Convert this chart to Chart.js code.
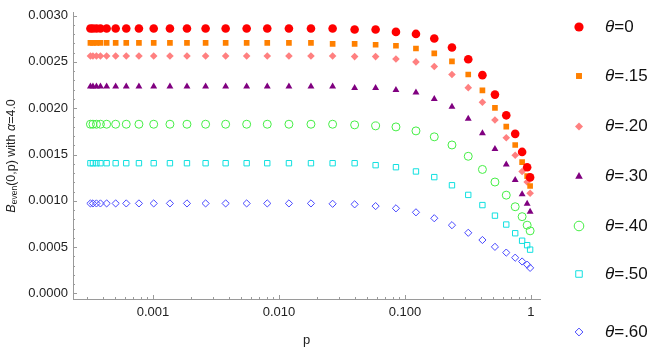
<!DOCTYPE html>
<html lang="en">
<head>
<meta charset="UTF-8">
<title>B even vs p</title>
<script src="https://cdn.jsdelivr.net/npm/chart.js"></script>
<style>
  html, body { margin: 0; padding: 0; background: #fff; }
</style>
</head>
<body>
<canvas id="chart" width="665" height="350"></canvas>
<script>
// p values (x positions, log axis)
const pValues = [0.000319, 0.000334, 0.000356, 0.000383, 0.000429, 0.000506, 0.000614, 0.000774,
                 0.001014, 0.001364, 0.001862, 0.002618, 0.003776, 0.005543, 0.008077, 0.0120,
                 0.01795, 0.02667, 0.03987, 0.05851, 0.08485, 0.1223, 0.1709, 0.2361,
                 0.3180, 0.412, 0.518, 0.637, 0.750, 0.851, 0.933, 0.985];

const seriesLabels = ['0', '.15', '.20', '.30', '.40', '.50', '.60'];

const theta0 = [0.00286, 0.00286, 0.00286, 0.00286, 0.00286, 0.00286, 0.00286, 0.00286,
                0.00286, 0.00286, 0.00286, 0.00286, 0.00286, 0.00286, 0.00286, 0.00286,
                0.00286, 0.00286, 0.00285, 0.00285, 0.002824, 0.002802, 0.002752, 0.002656,
                0.002528, 0.002357, 0.002147, 0.001923, 0.001723, 0.001528, 0.001363, 0.001253];
const theta15 = [0.002706, 0.002706, 0.002706, 0.002706, 0.002706, 0.002706, 0.002706, 0.002706,
                 0.002706, 0.002706, 0.002706, 0.002706, 0.002706, 0.002706, 0.002706, 0.002706,
                 0.002706, 0.002695, 0.002695, 0.002685, 0.002674, 0.002645, 0.002592, 0.002506,
                 0.002364, 0.002193, 0.002004, 0.001801, 0.001603, 0.001417, 0.001267, 0.00116];
const theta20 = [0.002564, 0.002564, 0.002564, 0.002564, 0.002564, 0.002564, 0.002564, 0.002564,
                 0.002564, 0.002564, 0.002564, 0.002564, 0.002564, 0.002564, 0.002564, 0.002564,
                 0.002564, 0.002564, 0.002557, 0.002557, 0.002532, 0.0025, 0.00245, 0.002364,
                 0.002222, 0.002065, 0.001873, 0.001681, 0.001492, 0.001317, 0.001203, 0.001082];
const theta30 = [0.002233, 0.002233, 0.002233, 0.002233, 0.002233, 0.002233, 0.002233, 0.002233,
                 0.002233, 0.002233, 0.002233, 0.002233, 0.002233, 0.002233, 0.002233, 0.002233,
                 0.002233, 0.002233, 0.002218, 0.002218, 0.002197, 0.002169, 0.0021, 0.002015,
                 0.001887, 0.001729, 0.00156, 0.001392, 0.001224, 0.001072, 0.000968, 0.000883];
const theta40 = [0.001827, 0.001827, 0.001827, 0.001827, 0.001827, 0.001827, 0.001827, 0.001827,
                 0.001827, 0.001827, 0.001827, 0.001827, 0.001827, 0.001827, 0.001827, 0.001827,
                 0.001827, 0.001827, 0.00182, 0.001809, 0.001798, 0.001755, 0.001691, 0.001603,
                 0.001481, 0.001339, 0.001203, 0.001061, 0.000936, 0.000829, 0.000737, 0.000676];
const theta50 = [0.001406, 0.001406, 0.001406, 0.001406, 0.001406, 0.001406, 0.001406, 0.001406,
                 0.001406, 0.001406, 0.001406, 0.001406, 0.001406, 0.001406, 0.001406, 0.001406,
                 0.001406, 0.001406, 0.001406, 0.001385, 0.001363, 0.001317, 0.001256, 0.001168,
                 0.001064, 0.000954, 0.00084, 0.000744, 0.00065, 0.000569, 0.000521, 0.000473];
const theta60 = [0.000972, 0.000972, 0.000972, 0.000972, 0.000972, 0.000972, 0.000972, 0.000972,
                 0.000972, 0.000972, 0.000972, 0.000972, 0.000972, 0.000972, 0.000972, 0.000972,
                 0.000972, 0.000968, 0.000962, 0.000943, 0.000919, 0.000876, 0.000812, 0.000737,
                 0.000655, 0.000577, 0.000503, 0.000441, 0.000386, 0.000345, 0.000311, 0.000276];

const xTickValues = [0.001, 0.01, 0.1, 1];
const xTickLabels = ['0.001', '0.010', '0.100', '1'];
const yTickValues = [0, 0.0005, 0.001, 0.0015, 0.002, 0.0025, 0.003];
const yTickLabels = ['0.0000', '0.0005', '0.0010', '0.0015', '0.0020', '0.0025', '0.0030'];

const allSeries = [theta0, theta15, theta20, theta30, theta40, theta50, theta60];

// marker look for each theta
const styles = [
    { color: '#ff0000', shape: 'circle',   r: 4.3, filled: true },
    { color: '#ff8000', shape: 'rect',     r: 4.0, filled: true },
    { color: '#ff8080', shape: 'rectRot',  r: 3.8, filled: true },
    { color: '#800080', shape: 'triangle', r: 4.0, filled: true },
    { color: '#44ee44', shape: 'circle',   r: 4.0, filled: false },
    { color: '#11e0e0', shape: 'rect',     r: 3.8, filled: false },
    { color: '#4848ff', shape: 'rectRot',  r: 3.6, filled: false }
];
const legendMarkerR = [4.6, 4.2, 4.0, 4.4, 4.8, 4.6, 3.9];

const axisColor = '#9a9a9a';
const labelColor = '#222';
const fontFam = '"Liberation Sans", Arial, sans-serif';

const datasets = allSeries.map((vals, i) => ({
    label: 'θ=' + seriesLabels[i],
    data: pValues.map((p, j) => ({ x: p, y: vals[j] })),
    pointStyle: styles[i].shape,
    pointRadius: styles[i].r,
    backgroundColor: styles[i].filled ? styles[i].color : 'rgba(0,0,0,0)',
    borderColor: styles[i].color,
    borderWidth: styles[i].filled ? 0 : 1,
    showLine: false
}));

// inward ticks, axis titles and the legend
const decorations = {
    id: 'decorations',
    afterDraw(chart) {
        const { ctx, chartArea } = chart;
        const x = chart.scales.x, y = chart.scales.y;
        ctx.save();
        ctx.strokeStyle = axisColor;
        ctx.lineWidth = 1;
        ctx.beginPath();
        for (let d = -4; d <= 0; d++) {
            for (let k = 1; k <= 9; k++) {
                const v = k * Math.pow(10, d);
                if (v < x.min || v > x.max) continue;
                const px = Math.round(x.getPixelForValue(v)) + 0.5;
                const len = k === 1 ? 4 : 2;
                ctx.moveTo(px, chartArea.bottom);
                ctx.lineTo(px, chartArea.bottom - len);
            }
        }
        for (let i = 0; i <= 30; i++) {
            const py = Math.round(y.getPixelForValue(i * 0.0001)) + 0.5;
            const len = i % 5 === 0 ? 4 : 2;
            ctx.moveTo(chartArea.left, py);
            ctx.lineTo(chartArea.left + len, py);
        }
        ctx.stroke();

        // x title
        ctx.fillStyle = labelColor;
        ctx.font = '13px ' + fontFam;
        ctx.textAlign = 'center';
        ctx.textBaseline = 'alphabetic';
        ctx.fillText('p', (chartArea.left + chartArea.right) / 2, 344);

        // y title, rotated
        const segs = [
            { t: 'B', f: 'italic 12.5px ' + fontFam, dy: 0 },
            { t: 'even', f: '8.5px ' + fontFam, dy: 2 },
            { t: '(0,p) with ', f: '12.5px ' + fontFam, dy: 0 },
            { t: 'α', f: 'italic 12.5px ' + fontFam, dy: 0 },
            { t: '=4.0', f: '12.5px ' + fontFam, dy: 0 }
        ];
        let total = 0;
        segs.forEach(s => { ctx.font = s.f; s.w = ctx.measureText(s.t).width; total += s.w; });
        ctx.save();
        ctx.translate(15, (chartArea.top + chartArea.bottom) / 2);
        ctx.rotate(-Math.PI / 2);
        ctx.textAlign = 'left';
        let cx = -total / 2;
        segs.forEach(s => { ctx.font = s.f; ctx.fillText(s.t, cx, s.dy); cx += s.w; });
        ctx.restore();

        // legend
        const rows = [27, 76, 126.5, 176.5, 226, 274, 332];
        chart.data.datasets.forEach((ds, i) => {
            const st = styles[i];
            ctx.fillStyle = st.filled ? st.color : 'rgba(0,0,0,0)';
            ctx.strokeStyle = st.color;
            ctx.lineWidth = 1;
            Chart.helpers.drawPoint(ctx, {
                pointStyle: st.shape, radius: legendMarkerR[i], rotation: 0,
                borderWidth: st.filled ? 0 : 1
            }, 579, rows[i]);
            ctx.fillStyle = '#111';
            ctx.textBaseline = 'middle';
            ctx.textAlign = 'left';
            ctx.font = 'italic 17px ' + fontFam;
            ctx.fillText('θ', 605, rows[i]);
            const tw = ctx.measureText('θ').width;
            ctx.font = '17px ' + fontFam;
            ctx.fillText('=' + seriesLabels[i], 605 + tw, rows[i]);
        });
        ctx.restore();
    }
};

new Chart(document.getElementById('chart'), {
    type: 'scatter',
    data: { datasets: datasets },
    options: {
        responsive: false,
        animation: false,
        layout: { padding: { left: 0, top: 10, right: 125, bottom: 0 } },
        plugins: { legend: { display: false }, tooltip: { enabled: false } },
        scales: {
            x: {
                type: 'logarithmic',
                min: 0.000232,
                max: 1.18,
                grid: { display: false, drawTicks: false },
                border: { display: true, color: axisColor, width: 1 },
                afterBuildTicks: scale => { scale.ticks = xTickValues.map(v => ({ value: v })); },
                afterFit: scale => { scale.height = 51; },
                ticks: {
                    autoSkip: false,
                    maxRotation: 0,
                    padding: 6,
                    color: labelColor,
                    font: { family: fontFam, size: 13 },
                    callback: value => xTickLabels[xTickValues.indexOf(value)]
                }
            },
            y: {
                min: -0.00006,
                max: 0.00303,
                grid: { display: false, drawTicks: false },
                border: { display: true, color: axisColor, width: 1 },
                afterBuildTicks: scale => { scale.ticks = yTickValues.map(v => ({ value: v })); },
                afterFit: scale => { scale.width = 73; },
                ticks: {
                    padding: 5,
                    color: labelColor,
                    font: { family: fontFam, size: 13 },
                    callback: value => yTickLabels[yTickValues.indexOf(value)]
                }
            }
        }
    },
    plugins: [decorations]
});
</script>
</body>
</html>
